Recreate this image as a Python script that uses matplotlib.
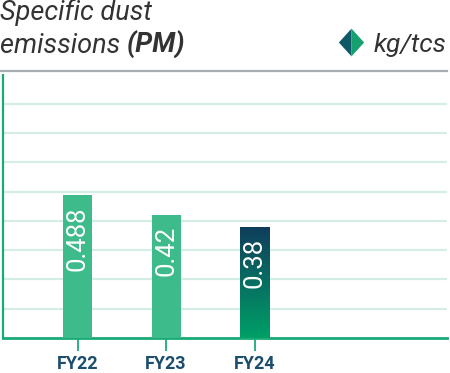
import numpy as np
import matplotlib
matplotlib.use('Agg')
import matplotlib.pyplot as plt
from matplotlib.lines import Line2D
from matplotlib.colors import LinearSegmentedColormap

years = ['FY22', 'FY23', 'FY24']
values = [0.488, 0.42, 0.38]
value_labels = ['0.488', '0.42', '0.38']

plt.rcParams['font.family'] = ['Roboto', 'DejaVu Sans']

green = '#1aaa78'
bar_green = '#3dbb8b'
grid_col = '#d4eee4'
navy = '#1b4d6d'
text_col = '#333333'

fig = plt.figure(figsize=(4.5, 3.73), dpi=100)
ax = fig.add_axes([3/450, 1 - 338/373, 444/450, (338 - 74.7)/373])

x = np.arange(len(years))
bars = ax.bar(x, values, width=0.328, color=[bar_green, bar_green, bar_green], zorder=3)

# gradient on the latest year bar
cmap = LinearSegmentedColormap.from_list('grad', ['#00a067', '#0f3c5c'])
b = bars[-1]
b.set_facecolor('none')
x0, y0 = b.get_x(), b.get_y()
w, h = b.get_width(), b.get_height()
grad = np.linspace(0, 1, 256).reshape(-1, 1)
im = ax.imshow(grad, cmap=cmap, origin='lower', aspect='auto',
               extent=[x0, x0 + w, y0, y0 + h], zorder=3)
im.set_clip_path(b)

for xi, v, lab in zip(x, values, value_labels):
    ax.annotate(lab, (xi, v), xytext=(0, -8), textcoords='offset points',
                rotation=90, ha='center', va='top', color='white',
                fontsize=18.5, zorder=4)

ax.set_xlim(-0.842, 4.175)
ax.set_ylim(0, 0.9)
ax.set_yticks(np.arange(0.1, 0.85, 0.1))
ax.yaxis.grid(True, color=grid_col, linewidth=1.6, zorder=0)
ax.tick_params(axis='y', left=False, labelleft=False)
ax.set_xticks(x)
ax.set_xticklabels(years, fontsize=13, fontweight='bold', color=navy)
ax.tick_params(axis='x', length=9.5, width=1.3, color=green, pad=3)

for s in ['top', 'right']:
    ax.spines[s].set_visible(False)
ax.spines['left'].set_color(green)
ax.spines['left'].set_linewidth(1.6)
ax.spines['bottom'].set_color(green)
ax.spines['bottom'].set_linewidth(2)

# header
fs = 19.5
fig.text(0.0, 1 - 20/373, 'Specific dust', fontsize=fs, style='italic',
         color=text_col, ha='left', va='baseline')
t = fig.text(0.0, 1 - 53/373, 'emissions ', fontsize=fs, style='italic',
             color=text_col, ha='left', va='baseline')
fig.canvas.draw()
bb = t.get_window_extent()
fig.text(bb.x1 / fig.bbox.width, 1 - 53/373, '(PM)', fontsize=fs,
         style='italic', fontweight='bold', color=text_col,
         ha='left', va='baseline')
fig.text(446/450, 1 - 52/373, 'kg/tcs', fontsize=19, style='italic',
         color=text_col, ha='right', va='baseline')

# unit marker (two-tone diamond)
left_half = [(0, 1.1), (-1, 0), (0, -1.1)]
right_half = [(0, 1.1), (1, 0), (0, -1.1)]
fig.add_artist(Line2D([351/450], [1 - 42/373], marker=left_half, markersize=20,
                      color='#0f5a66', markeredgewidth=0, linestyle='none',
                      transform=fig.transFigure))
fig.add_artist(Line2D([351/450], [1 - 42/373], marker=right_half, markersize=20,
                      color='#16a070', markeredgewidth=0, linestyle='none',
                      transform=fig.transFigure))

fig.add_artist(Line2D([0, 447/450], [1 - 70.5/373, 1 - 70.5/373], color='#a9adb1',
                      linewidth=1.6, transform=fig.transFigure))

fig.savefig('out.png', dpi=100)
